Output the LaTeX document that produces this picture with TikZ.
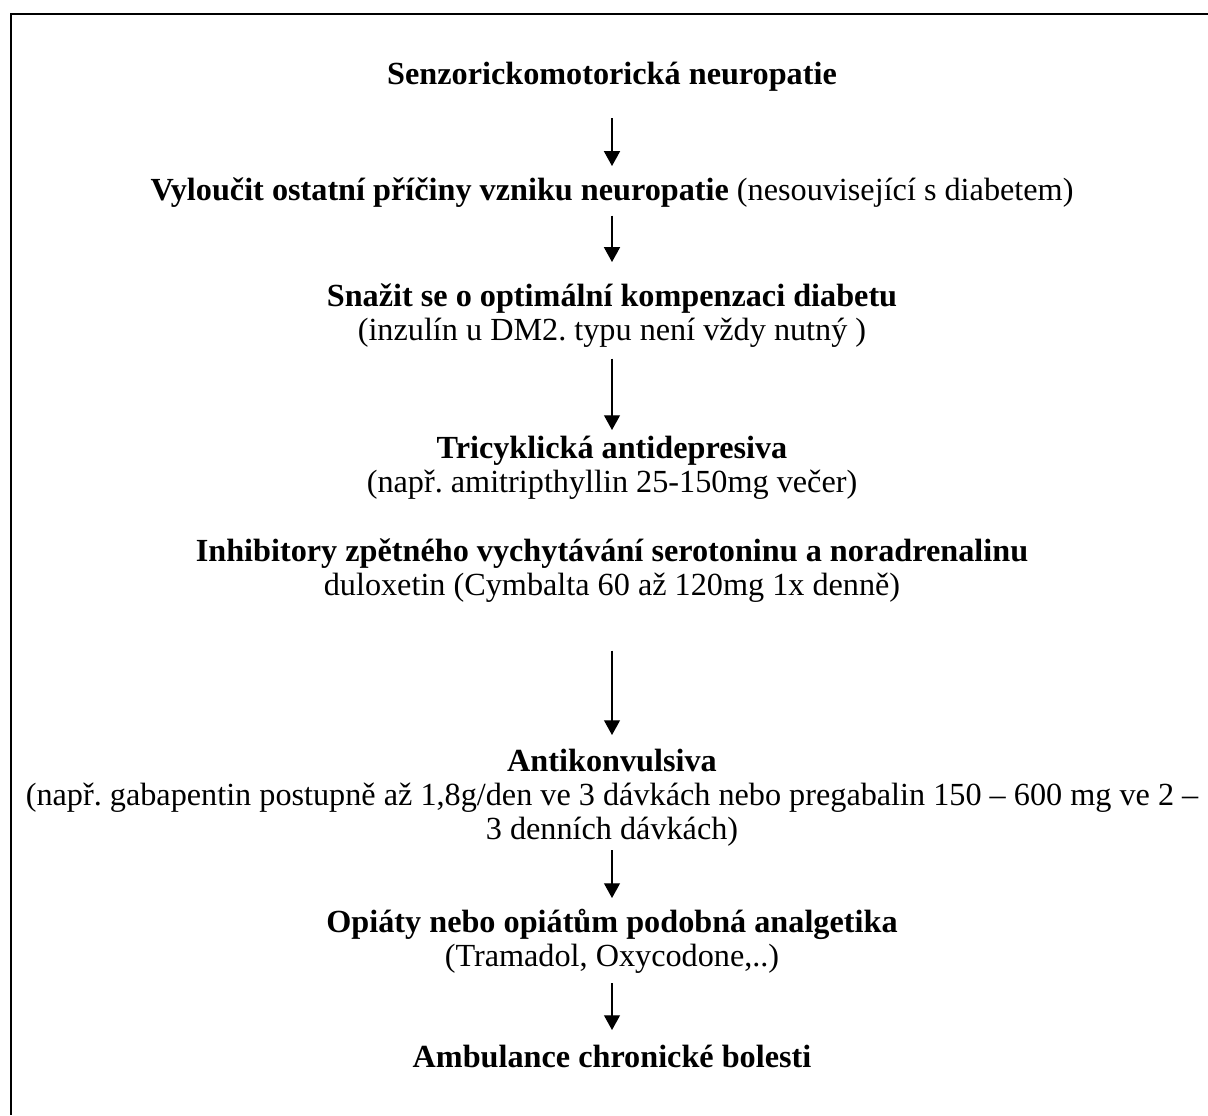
\documentclass[tikz,border=0pt]{standalone}
\usepackage{fontspec}
\setmainfont{Liberation Serif}
\usetikzlibrary{arrows.meta,calc}
\frenchspacing

\begin{document}
\begin{tikzpicture}[
		x=0.4065pt, y=-0.4065pt,
		>={Triangle[width=6.5pt,length=6pt]},
		stage/.style={anchor=north, inner sep=0pt, align=center, font=\fontsize{13.1}{13.8}\selectfont},
		flow/.style={->, line width=0.5pt},
		frame/.style={line width=0.85pt}
	]
		\def\cx{612}
		\useasboundingbox (0,0) rectangle (1208,1115);
		\draw[frame] (1208,14) -- (11,14) -- (11,1115);
		% stages
		\node[stage] (sensor) at (\cx,62) {\textbf{Senzorickomotorická neuropatie}};
		\node[stage] (exclude) at (\cx,177) {\textbf{Vyloučit ostatní příčiny vzniku neuropatie} (nesouvisející s diabetem)};
		\node[stage] (control) at (\cx,283) {\textbf{Snažit se o optimální kompenzaci diabetu}\\(inzulín u DM2. typu není vždy nutný )};
		\node[stage] (tca) at (\cx,436) {\textbf{Tricyklická antidepresiva}\\(např. amitripthyllin 25-150mg večer)};
		\node[stage] (snri) at (\cx,538) {\textbf{Inhibitory zpětného vychytávání serotoninu a noradrenalinu}\\duloxetin (Cymbalta 60 až 120mg 1x denně)};
		\node[stage] (anticonv) at (\cx,749) {\textbf{Antikonvulsiva}\\(např. gabapentin postupně až 1,8g/den ve 3 dávkách nebo pregabalin 150 – 600 mg ve 2 –\\3 denních dávkách)};
		\node[stage] (opiate) at (\cx,909) {\textbf{Opiáty nebo opiátům podobná analgetika}\\(Tramadol, Oxycodone,..)};
		\node[stage] (pain) at (\cx,1045) {\textbf{Ambulance chronické bolesti}};
		% arrows
		\draw[flow] ($(sensor.south)+(0,26)$) -- ($(exclude.north)+(0,-11)$);
		\draw[flow] ($(exclude.south)+(0,8)$) -- ($(control.north)+(0,-21)$);
		\draw[flow] ($(control.south)+(0,11)$) -- ($(tca.north)+(0,-6)$);
		\draw[flow] ($(snri.south)+(0,48)$) -- ($(anticonv.north)+(0,-14)$);
		\draw[flow] ($(anticonv.south)+(0,3)$) -- ($(opiate.north)+(0,-11)$);
		\draw[flow] ($(opiate.south)+(0,9)$) -- ($(pain.north)+(0,-15)$);
	\end{tikzpicture}
\end{document}
